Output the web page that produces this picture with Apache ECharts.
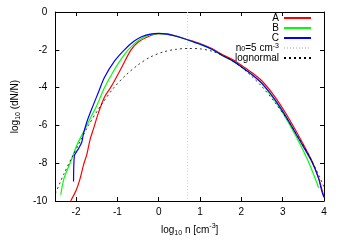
<!DOCTYPE html>
<html>
<head>
<meta charset="utf-8">
<script src="https://cdn.jsdelivr.net/npm/echarts@6/dist/echarts.min.js"></script>
<style>html,body{margin:0;padding:0;background:#fff}#c{width:346px;height:242px}</style>
</head>
<body>
<div id="c"></div>
<script>
var xTicks = [-2, -1, 0, 1, 2, 3, 4];
var yTicks = [0, -2, -4, -6, -8, -10];

var seriesA = [[-2.13,-10],[-2.0,-9.45],[-1.9,-8.8],[-1.82,-8.1],[-1.74,-7.55],[-1.66,-6.75],[-1.58,-6.2],[-1.46,-5.35],[-1.31,-4.5],[-1.15,-3.95],[-0.9,-2.95],[-0.67,-2.0],[-0.5,-1.6],[-0.3,-1.35],[-0.1,-1.18],[0,-1.14],[0.2,-1.16],[0.4,-1.26],[0.6,-1.39],[0.8,-1.53],[1.06,-1.72],[1.3,-1.95],[1.54,-2.25],[1.8,-2.53],[2.0,-2.82],[2.25,-3.2],[2.5,-3.65],[2.8,-4.45],[3.1,-5.45],[3.4,-6.6],[3.7,-7.85],[3.87,-8.8],[4.0,-9.8]];
var seriesB = [[-2.37,-9.67],[-2.29,-8.8],[-2.13,-7.92],[-1.98,-7.05],[-1.82,-6.35],[-1.66,-5.65],[-1.5,-4.96],[-1.31,-4.0],[-1.07,-3.04],[-0.83,-2.25],[-0.6,-1.7],[-0.4,-1.38],[-0.2,-1.2],[0,-1.14],[0.2,-1.17],[0.4,-1.27],[0.6,-1.4],[0.8,-1.55],[1.06,-1.75],[1.3,-1.98],[1.54,-2.3],[1.8,-2.6],[2.0,-2.9],[2.25,-3.3],[2.5,-3.8],[2.8,-4.65],[3.1,-5.7],[3.4,-6.9],[3.6,-7.8],[3.75,-8.6],[3.87,-9.3]];
var seriesC = [[-2.06,-8.97],[-2.04,-7.6],[-1.99,-7.4],[-1.94,-7.23],[-1.86,-6.88],[-1.82,-6.44],[-1.74,-5.83],[-1.62,-5.13],[-1.46,-4.26],[-1.31,-3.45],[-1.07,-2.6],[-0.83,-2.0],[-0.6,-1.55],[-0.4,-1.3],[-0.2,-1.17],[0,-1.13],[0.2,-1.17],[0.4,-1.27],[0.6,-1.4],[0.8,-1.55],[1.06,-1.75],[1.3,-1.98],[1.54,-2.3],[1.8,-2.6],[2.0,-2.9],[2.25,-3.3],[2.5,-3.78],[2.8,-4.6],[3.1,-5.6],[3.4,-6.75],[3.7,-7.9],[3.87,-8.8],[3.95,-9.5],[4.0,-9.8]];
var lognormal = [[-2.5,-9.6],[-2.4,-9.1],[-2.3,-8.6],[-2.1,-7.7],[-1.9,-6.85],[-1.7,-6.0],[-1.4,-4.95],[-1.1,-4.05],[-0.8,-3.35],[-0.5,-2.8],[-0.2,-2.38],[0.1,-2.12],[0.4,-1.98],[0.7,-1.93],[1.0,-1.95],[1.3,-2.08],[1.6,-2.35],[1.9,-2.75],[2.2,-3.3],[2.5,-3.95],[2.8,-4.75],[3.1,-5.65],[3.4,-6.7],[3.7,-7.85],[4.0,-9.25]];
var n0Line = [[0.699,0],[0.699,-10]];

var FONT = 'Liberation Sans, Arial, sans-serif';
var rich = {
  sub: {fontSize: 7, fontFamily: FONT, color: '#000', verticalAlign: 'bottom', lineHeight: 8},
  sup: {fontSize: 7, fontFamily: FONT, color: '#000', verticalAlign: 'top', lineHeight: 8}
};

var chart = echarts.init(document.getElementById('c'));
var axisBase = {
  type: 'value', min: -2.5, max: 4,
  splitLine: {show: false},
  axisLine: {show: true, onZero: false, lineStyle: {color: '#000', width: 1}},
  axisTick: {show: true, inside: true, length: 4, customValues: xTicks, lineStyle: {color: '#000'}}
};
chart.setOption({
  animation: false,
  grid: {left: 49, right: 22, top: 12, bottom: 39},
  legend: {
    orient: 'vertical', right: 34, top: 13, align: 'right', padding: 0,
    itemWidth: 27, itemHeight: 10, itemGap: 0,
    itemStyle: {opacity: 0},
    textStyle: {fontSize: 10, fontFamily: FONT, color: '#000', lineHeight: 10, rich: rich},
    formatter: function (n) { return n === 'n0' ? 'n{sub|0}=5 cm{sup|-3}' : n; },
    data: ['A', 'B', 'C', 'n0', 'lognormal']
  },
  xAxis: [
    Object.assign({}, axisBase, {
      position: 'bottom',
      axisLabel: {customValues: xTicks, fontSize: 10, fontFamily: FONT, color: '#000', margin: 6},
      name: 'log{sub|10} n [cm{sup|-3}]', nameLocation: 'middle', nameGap: 22,
      nameTextStyle: {fontSize: 10, fontFamily: FONT, color: '#000', lineHeight: 14, rich: rich}
    }),
    Object.assign({}, axisBase, {position: 'top', axisLabel: {show: false}})
  ],
  yAxis: [
    {type: 'value', min: -10, max: 0, interval: 2, position: 'left',
     splitLine: {show: false},
     axisLine: {show: true, onZero: false, lineStyle: {color: '#000'}},
     axisTick: {inside: true, length: 4, lineStyle: {color: '#000'}},
     axisLabel: {fontSize: 10, fontFamily: FONT, color: '#000', margin: 8},
     name: 'log{sub|10} (dN/N)', nameLocation: 'middle', nameGap: 26, nameRotate: 90,
     nameTextStyle: {fontSize: 10, fontFamily: FONT, color: '#000', lineHeight: 14, rich: rich}},
    {type: 'value', min: -10, max: 0, interval: 2, position: 'right',
     splitLine: {show: false},
     axisLine: {show: true, onZero: false, lineStyle: {color: '#000'}},
     axisTick: {inside: true, length: 4, lineStyle: {color: '#000'}},
     axisLabel: {show: false}}
  ],
  series: [
    {name: 'n0', type: 'line', data: n0Line, symbol: 'none', lineStyle: {color: '#d0d0d0', width: 1, type: [1, 2]}, itemStyle: {color: '#d0d0d0'}},
    {name: 'A', type: 'line', data: seriesA, symbol: 'none', smooth: 0.3, lineStyle: {color: '#ff0000', width: 1.2}, itemStyle: {color: '#ff0000'}},
    {name: 'B', type: 'line', data: seriesB, symbol: 'none', smooth: 0.3, lineStyle: {color: '#00ff00', width: 1.2}, itemStyle: {color: '#00ff00'}},
    {name: 'C', type: 'line', data: seriesC, symbol: 'none', smooth: 0.3, lineStyle: {color: '#0000ff', width: 1.2}, itemStyle: {color: '#0000ff'}},
    {name: 'lognormal', type: 'line', data: lognormal, symbol: 'none', smooth: 0.3, lineStyle: {color: '#000', width: 0.8, type: [2, 3]}, itemStyle: {color: '#000'}}
  ]
});
</script>
</body>
</html>
